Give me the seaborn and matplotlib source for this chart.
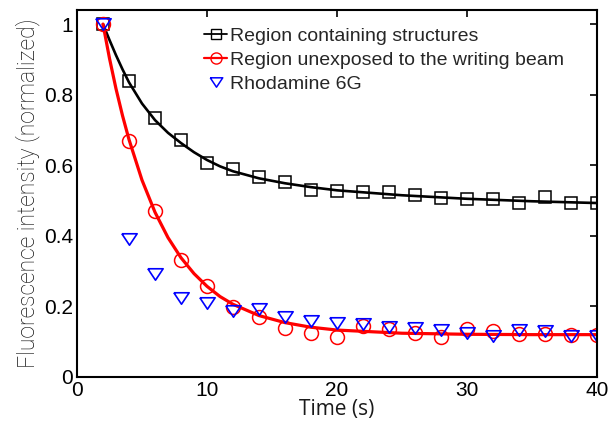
import matplotlib
matplotlib.use('Agg')
import matplotlib.pyplot as plt
import seaborn as sns
from matplotlib.lines import Line2D
from matplotlib.ticker import FuncFormatter

# Messpunkte (alle 2 s)
time_s = [2, 4, 6, 8, 10, 12, 14, 16, 18, 20, 22, 24, 26, 28, 30, 32, 34, 36, 38, 40]
structures = [1.0, 0.839, 0.733, 0.672, 0.606, 0.590, 0.566, 0.553, 0.531, 0.526,
              0.524, 0.523, 0.517, 0.508, 0.503, 0.503, 0.493, 0.510, 0.493, 0.492]
unexposed = [1.0, 0.670, 0.470, 0.331, 0.258, 0.197, 0.169, 0.140, 0.124, 0.113,
             0.145, 0.136, 0.124, 0.112, 0.136, 0.131, 0.121, 0.121, 0.119, 0.119]
rhodamine = [1.0, 0.390, 0.293, 0.225, 0.211, 0.187, 0.192, 0.170, 0.159, 0.153,
             0.150, 0.142, 0.140, 0.134, 0.124, 0.117, 0.134, 0.131, 0.115, 0.117]

# Fitkurven
fit_time = [2, 2.5, 3, 3.5, 4, 5, 6, 7, 8, 9, 10, 11, 12, 14, 16, 18, 20, 25, 30, 35, 40]
fit_structures = [1.0, 0.955, 0.912, 0.872, 0.835, 0.775, 0.728, 0.692, 0.663, 0.637, 0.615,
                  0.597, 0.583, 0.563, 0.549, 0.538, 0.529, 0.515, 0.505, 0.498, 0.493]
fit_unexposed = [1.0, 0.903, 0.817, 0.741, 0.673, 0.558, 0.467, 0.395, 0.338, 0.293, 0.257,
                 0.228, 0.206, 0.174, 0.154, 0.141, 0.133, 0.124, 0.121, 0.120, 0.120]

series_labels = ['Region containing structures',
                 'Region unexposed to the writing beam',
                 'Rhodamine 6G']
x_ticks = [0, 10, 20, 30, 40]
y_ticks = [0, 0.2, 0.4, 0.6, 0.8, 1.0]

sns.set_theme(style='white')
plt.rcParams['font.family'] = ['Liberation Sans', 'DejaVu Sans']

fig = plt.figure(figsize=(6.12, 4.3), dpi=100)
ax = fig.add_axes([0.1258, 0.1233, 0.8497, 0.8534])

# Dreieck nach unten, breiter als hoch (wie MATLAB 'v'), geschlossen
tri = [(-1, 0.75), (1, 0.75), (0, -0.75), (-1, 0.75)]

sns.lineplot(x=time_s, y=structures, ax=ax, linestyle='none', marker='s',
             markersize=9, markerfacecolor='none', markeredgecolor='black',
             markeredgewidth=1.1, color='black')
sns.lineplot(x=fit_time, y=fit_structures, ax=ax, color='black', linewidth=1.9)
sns.lineplot(x=time_s, y=unexposed, ax=ax, linestyle='none', marker='o',
             markersize=10, markerfacecolor='none', markeredgecolor='red',
             markeredgewidth=1.1, color='red')
sns.lineplot(x=fit_time, y=fit_unexposed, ax=ax, color='red', linewidth=2.3)
sns.lineplot(x=time_s, y=rhodamine, ax=ax, linestyle='none', marker=tri,
             markersize=11, markerfacecolor='none', markeredgecolor='blue',
             markeredgewidth=1.2, color='blue')

ax.set_xlim(0, 40)
ax.set_ylim(0, 1.04)
ax.set_xticks(x_ticks)
ax.set_yticks(y_ticks)
fmt = FuncFormatter(lambda v, p: f'{v:g}')
ax.xaxis.set_major_formatter(fmt)
ax.yaxis.set_major_formatter(fmt)
ax.tick_params(direction='in', top=True, right=True, length=5, width=1.2,
               labelsize=15, color='black', labelcolor='black', pad=3)
for sp in ax.spines.values():
    sp.set_color('black')
    sp.set_linewidth(1.5)

ax.set_xlabel('Time (s)', family=['Open Sans', 'DejaVu Sans'], fontsize=15,
              color='#1a1a1a', labelpad=-1)
ax.set_ylabel('Fluorescence intensity (normalized)', family=['Roboto', 'DejaVu Sans'],
              fontweight='light', fontsize=16.5, color='#111111', labelpad=3)

handles = [
    Line2D([], [], color='black', lw=1.3, marker='s', ms=7.5, mfc='none', mec='black', mew=1.0),
    Line2D([], [], color='red', lw=1.6, marker='o', ms=8, mfc='none', mec='red', mew=1.0),
    Line2D([], [], color='blue', lw=0, marker=tri, ms=9, mfc='none', mec='blue', mew=1.1),
]
ax.legend(handles, series_labels, loc='upper left', bbox_to_anchor=(0.244, 0.953),
          frameon=False, fontsize=14, handlelength=1.2, handletextpad=0.15,
          labelspacing=0.32, borderpad=0, borderaxespad=0)

fig.savefig('out.png', dpi=100)
